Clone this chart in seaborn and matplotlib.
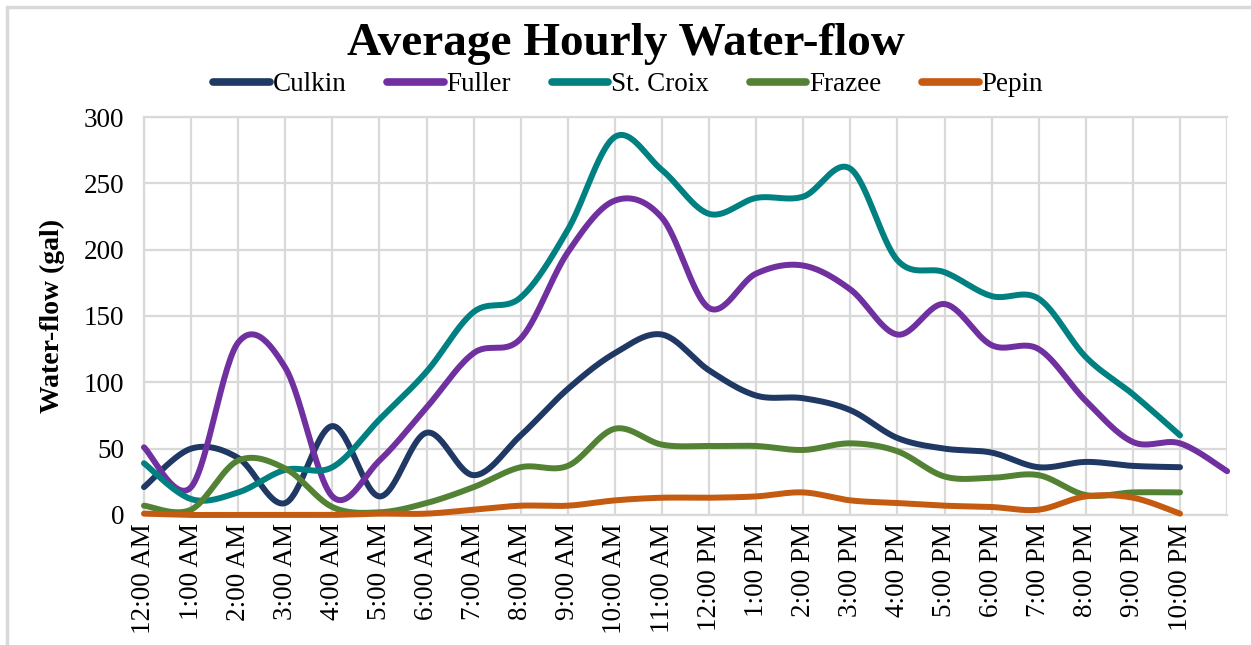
import numpy as np
import pandas as pd
import matplotlib
matplotlib.use("Agg")
import matplotlib.pyplot as plt
from matplotlib.lines import Line2D
import seaborn as sns

hours = ["12:00 AM", "1:00 AM", "2:00 AM", "3:00 AM", "4:00 AM", "5:00 AM",
         "6:00 AM", "7:00 AM", "8:00 AM", "9:00 AM", "10:00 AM", "11:00 AM",
         "12:00 PM", "1:00 PM", "2:00 PM", "3:00 PM", "4:00 PM", "5:00 PM",
         "6:00 PM", "7:00 PM", "8:00 PM", "9:00 PM", "10:00 PM", "11:00 PM"]

culkin = [21, 50, 43, 9, 67, 14, 62, 30, 60, 95, 122, 136, 109, 90, 88, 79,
          58, 50, 47, 36, 40, 37, 36]
fuller = [51, 21, 130, 111, 14, 41, 81, 122, 133, 198, 237, 224, 156, 182, 188, 170,
          136, 159, 128, 125, 86, 55, 54, 33]
st_croix = [39, 12, 17, 34, 36, 72, 108, 153, 164, 215, 285, 260, 227, 239, 240, 261,
            192, 183, 165, 163, 119, 91, 60]
frazee = [7, 4, 41, 35, 6, 2, 9, 21, 36, 37, 65, 53, 52, 52, 49, 54,
          48, 29, 28, 30, 15, 17, 17]
pepin = [1, 0, 0, 0, 0, 1, 1, 4, 7, 7, 11, 13, 13, 14, 17, 11,
         9, 7, 6, 4, 14, 13, 1]

series = {"Culkin": culkin, "Fuller": fuller, "St. Croix": st_croix,
          "Frazee": frazee, "Pepin": pepin}
colors = {"Culkin": "#203864", "Fuller": "#7030a0", "St. Croix": "#008080",
          "Frazee": "#548235", "Pepin": "#c55a11"}


def smooth(y, n=30):
    y = np.asarray(y, dtype=float)
    x = np.arange(len(y), dtype=float)
    P = np.concatenate([[y[0]], y, [y[-1]]])
    X = np.concatenate([[x[0]], x, [x[-1]]])
    xs, ys = [], []
    t = np.linspace(0, 1, n, endpoint=False)
    for i in range(1, len(P) - 2):
        p0, p1, p2, p3 = P[i - 1], P[i], P[i + 1], P[i + 2]
        x0, x1, x2, x3 = X[i - 1], X[i], X[i + 1], X[i + 2]
        k = 1 / 6
        c1y = p1 + (p2 - p0) * k
        c2y = p2 - (p3 - p1) * k
        c1x = x1 + (x2 - x0) * k
        c2x = x2 - (x3 - x1) * k
        bx = (1 - t) ** 3 * x1 + 3 * (1 - t) ** 2 * t * c1x + 3 * (1 - t) * t ** 2 * c2x + t ** 3 * x2
        by = (1 - t) ** 3 * p1 + 3 * (1 - t) ** 2 * t * c1y + 3 * (1 - t) * t ** 2 * c2y + t ** 3 * p2
        xs.append(bx)
        ys.append(by)
    xs.append([x[-1]])
    ys.append([y[-1]])
    return np.concatenate(xs), np.concatenate(ys)


frames = []
for name, vals in series.items():
    sx, sy = smooth(vals)
    frames.append(pd.DataFrame({"x": sx, "y": np.clip(sy, 0, None), "site": name}))
df = pd.concat(frames, ignore_index=True)

sns.set_theme(style="white")
plt.rcParams["font.family"] = ["Liberation Serif", "DejaVu Serif"]
plt.rcParams["text.color"] = "black"
plt.rcParams["xtick.color"] = "black"
plt.rcParams["ytick.color"] = "black"
plt.rcParams["axes.labelcolor"] = "black"

fig = plt.figure(figsize=(12.51, 6.45), dpi=100)
ax = fig.add_axes([0.1151, 0.2016, 0.8658, 0.617])

sns.lineplot(data=df, x="x", y="y", hue="site", palette=colors, sort=False,
             estimator=None, linewidth=4.3, legend=False, ax=ax,
             hue_order=list(series.keys()))
for line in ax.lines:
    line.set_solid_capstyle("round")
    line.set_clip_on(False)
    line.set_zorder(3)

ax.set_xlim(0, 23)
ax.set_ylim(0, 300)
ax.set_xticks(range(23))
ax.set_xticklabels(hours[:23], rotation=90, fontsize=19.5)
ax.set_xticks(range(24), minor=True)
ax.set_yticks([0, 50, 100, 150, 200, 250, 300])
ax.tick_params(axis="y", labelsize=19.5, length=0, pad=14)
ax.tick_params(axis="x", length=0, pad=6)
ax.grid(True, which="major", color="#d9d9d9", linewidth=1.6)
ax.grid(True, which="minor", axis="x", color="#d9d9d9", linewidth=1.6)
ax.set_axisbelow(True)
for s in ["top", "bottom", "left"]:
    ax.spines[s].set_visible(True)
    ax.spines[s].set_color("#d9d9d9")
    ax.spines[s].set_linewidth(1.6)
    ax.spines[s].set_zorder(1)
ax.spines["right"].set_visible(False)

ax.set_xlabel("")
ax.set_ylabel("Water-flow (gal)", fontsize=20, fontweight="bold")
ax.yaxis.set_label_coords(-0.073, 0.5)

fig.suptitle("Average Hourly Water-flow", fontsize=34, fontweight="bold",
             x=0.5, y=0.965, color="black")

handles = [Line2D([0], [0], color=colors[n], linewidth=5.5, solid_capstyle="round")
           for n in series]
fig.legend(handles, list(series.keys()), loc="center", bbox_to_anchor=(0.502, 0.869),
           ncol=5, frameon=False, fontsize=19.5, handlelength=2.1,
           handletextpad=0.1, columnspacing=1.5)

fig.add_artist(Line2D([0.0055, 0.0055], [0.0, 0.989], transform=fig.transFigure,
                      color="#d9d9d9", linewidth=2.5))
fig.add_artist(Line2D([0.0055, 1.0], [0.989, 0.989], transform=fig.transFigure,
                      color="#d9d9d9", linewidth=2.5))

fig.savefig("out.png", dpi=100, facecolor="white")
